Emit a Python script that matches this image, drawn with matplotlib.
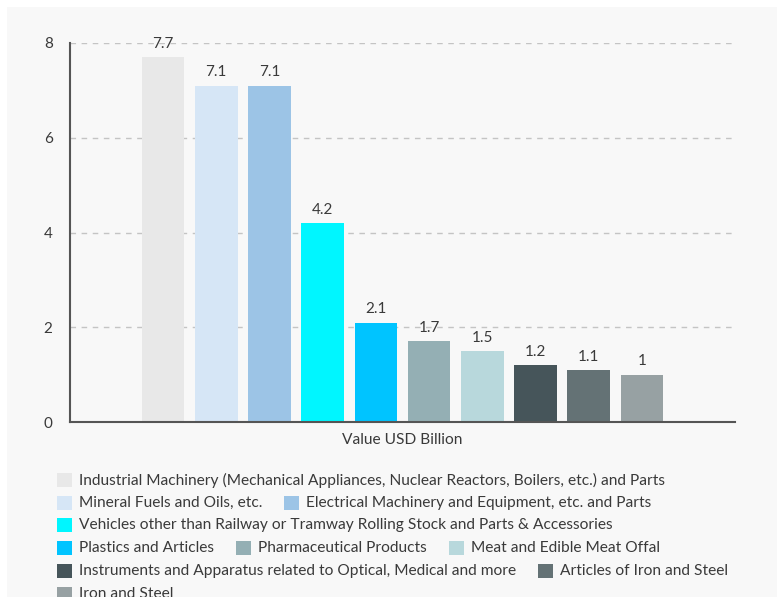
import matplotlib
matplotlib.use("Agg")
import matplotlib.pyplot as plt
from matplotlib.patches import Rectangle

plt.rcParams['font.family'] = ['Lato', 'DejaVu Sans']

categories = [
    "Industrial Machinery (Mechanical Appliances, Nuclear Reactors, Boilers, etc.) and Parts",
    "Mineral Fuels and Oils, etc.",
    "Electrical Machinery and Equipment, etc. and Parts",
    "Vehicles other than Railway or Tramway Rolling Stock and Parts & Accessories",
    "Plastics and Articles",
    "Pharmaceutical Products",
    "Meat and Edible Meat Offal",
    "Instruments and Apparatus related to Optical, Medical and more",
    "Articles of Iron and Steel",
    "Iron and Steel",
]
values = [7.7, 7.1, 7.1, 4.2, 2.1, 1.7, 1.5, 1.2, 1.1, 1]
value_labels = ["7.7", "7.1", "7.1", "4.2", "2.1", "1.7", "1.5", "1.2", "1.1", "1"]
colors = ["#e8e8e8", "#d6e6f6", "#9cc4e6", "#00f6ff", "#00c4ff",
          "#94afb4", "#b8d8dc", "#46555a", "#647275", "#97a1a3"]
x_label = "Value USD Billion"
y_ticks = [0, 2, 4, 6, 8]

W, H = 777, 597
fig = plt.figure(figsize=(W / 100, H / 100), dpi=100, facecolor="white")
fig.patches.append(Rectangle((7 / W, 0), 1, (H - 7) / H, transform=fig.transFigure,
                             facecolor="#f8f8f8", edgecolor="none", zorder=-10))

ax = fig.add_axes([70 / W, (H - 422) / H, (735 - 70) / W, (422 - 43) / H])
ax.set_facecolor("none")
n = len(values)
slot = 0.8 / n
for i, (v, c, lab) in enumerate(zip(values, colors, value_labels)):
    xc = -0.4 + slot * (i + 0.5)
    ax.bar(xc, v, width=slot * 0.8, color=c, zorder=2)
    ax.annotate(lab, (xc, v), xytext=(0, 4.5), textcoords="offset points",
                ha="center", va="bottom", fontsize=11, color="#3a3a3a")
ax.set_xlim(-0.5, 0.5)
ax.set_ylim(0, 8)
ax.set_yticks(y_ticks)
ax.set_yticklabels([str(t) for t in y_ticks], fontsize=11, color="#3a3a3a")
ax.set_xticks([0])
ax.set_xticklabels([x_label], fontsize=11.2, color="#3a3a3a")
ax.tick_params(axis="y", length=0, pad=12.5)
ax.tick_params(axis="x", length=0, pad=8)
ax.yaxis.grid(True, linestyle=(0, (4, 4)), color="#c4c4c4", linewidth=1, zorder=0)
ax.set_axisbelow(True)
for s in ["top", "right"]:
    ax.spines[s].set_visible(False)
ax.spines["left"].set_color("#555555")
ax.spines["bottom"].set_color("#555555")
ax.spines["left"].set_linewidth(1.5)
ax.spines["bottom"].set_linewidth(1.5)

# legend, flowed in rows like the original
renderer = fig.canvas.get_renderer()
rows_y = [480, 503, 525, 548, 571, 594]
row_breaks = [[0], [1, 2], [3], [4, 5, 6], [7, 8], [9]]
for ry, idxs in zip(rows_y, row_breaks):
    x = 57
    for i in idxs:
        fig.patches.append(Rectangle((x / W, (H - ry - 7) / H), 15 / W, 14 / H,
                                     transform=fig.transFigure, facecolor=colors[i],
                                     edgecolor="none"))
        t = fig.text((x + 22) / W, (H - ry) / H, categories[i], fontsize=11.2,
                     color="#3a3a3a", va="center", ha="left")
        bb = t.get_window_extent(renderer)
        x = bb.x1 + 22

fig.savefig("out.png", dpi=100, facecolor=fig.get_facecolor())
